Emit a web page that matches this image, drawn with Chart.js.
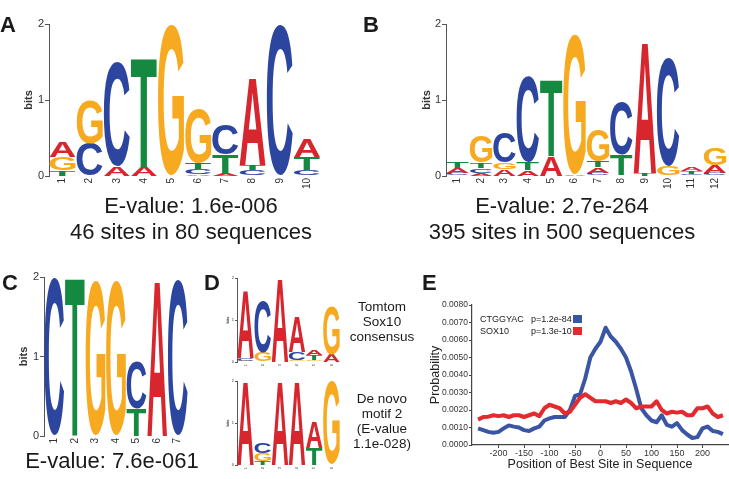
<!DOCTYPE html>
<html>
<head>
<meta charset="utf-8">
<script src="https://cdn.jsdelivr.net/npm/chart.js@4.4.1/dist/chart.umd.min.js"></script>
<style>
  html, body { margin: 0; padding: 0; background: #fff; }
  body {
    width: 729px; height: 479px; position: relative; overflow: hidden;
    font-family: "Liberation Sans", Arial, sans-serif; color: #1a1a1a;
  }
  canvas, .t { position: absolute; }
  .panel { font-weight: bold; font-size: 22px; line-height: 22px; }
  .caption { font-size: 22px; line-height: 26px; text-align: center; white-space: nowrap; }
  .note { font-size: 13.5px; line-height: 15px; text-align: center; width: 110px; }
  .leg { font-size: 9px; line-height: 12px; white-space: nowrap; }
  .sq { position: absolute; width: 9px; height: 8px; }
</style>
</head>
<body>
<canvas id="logoA" width="330" height="196" style="left:0;top:0"></canvas>
<canvas id="logoB" width="319" height="196" style="left:410px;top:0"></canvas>
<canvas id="logoC" width="195" height="192" style="left:0;top:262px"></canvas>
<canvas id="logoD1" width="125" height="104" style="left:220px;top:268px"></canvas>
<canvas id="logoD2" width="125" height="104" style="left:220px;top:371px"></canvas>
<canvas id="chartE" width="301" height="189" style="left:428px;top:290px"></canvas>

<div class="t panel" style="left:0;top:14px">A</div>
<div class="t panel" style="left:363px;top:14px">B</div>
<div class="t panel" style="left:2px;top:272px">C</div>
<div class="t panel" style="left:204px;top:272px">D</div>
<div class="t panel" style="left:422px;top:272px">E</div>

<div class="t caption" style="left:41px;top:193px;width:300px">E-value: 1.6e-006<br>46 sites in 80 sequences</div>
<div class="t caption" style="left:412px;top:193px;width:300px">E-value: 2.7e-264<br>395 sites in 500 sequences</div>
<div class="t caption" style="left:0;top:448px;width:224px">E-value: 7.6e-061</div>

<div class="t note" style="left:327px;top:299px">Tomtom<br>Sox10<br>consensus</div>
<div class="t note" style="left:327px;top:391px">De novo<br>motif 2<br>(E-value<br>1.1e-028)</div>

<div class="t leg" style="left:480px;top:313px">CTGGYAC</div>
<div class="t leg" style="left:531px;top:313px">p=1.2e-84</div>
<div class="sq" style="left:573px;top:315px;background:#3a55a4"></div>
<div class="t leg" style="left:480px;top:325px">SOX10</div>
<div class="t leg" style="left:531px;top:325px">p=1.3e-10</div>
<div class="sq" style="left:573px;top:327px;background:#e22a2f"></div>

<script>
// Sequence logos: letters of each column from bottom to top, with their heights in bits
const logoALetters = ['TGA', 'CG', 'AC', 'AT', 'G', 'ACTG', 'ATC', 'CTA', 'C', 'CTA'];
const logoAHeights = [
  [0.08, 0.17, 0.2], [0.43, 0.57], [0.12, 1.37], [0.12, 1.44], [1.99],
  [0.03, 0.06, 0.09, 0.71], [0.04, 0.24, 0.39], [0.08, 0.07, 1.15], [1.99], [0.08, 0.17, 0.24],
];

const logoBLetters = ['CAT', 'ACTG', 'AGC', 'ATC', 'AT', 'AG', 'CATG', 'ATC', 'TA', 'GC', 'CTA', 'CAG'];
const logoBHeights = [
  [0.035, 0.065, 0.09], [0.045, 0.055, 0.075, 0.35], [0.09, 0.09, 0.39], [0.08, 0.1, 1.13],
  [0.26, 1.0], [0.03, 1.84], [0.04, 0.075, 0.08, 0.42], [0.01, 0.27, 0.7],
  [0.04, 1.73], [0.12, 1.43], [0.03, 0.035, 0.05], [0.04, 0.1, 0.22],
];

const logoCLetters = ['C', 'T', 'G', 'G', 'TC', 'A', 'C'];
const logoCHeights = [[1.98], [2.0], [1.95], [1.95], [0.35, 0.59], [1.97], [1.96]];

const logoD1Letters = ['GCA', 'GC', 'A', 'GCA', 'CGTA', 'AG'];
const logoD1Heights = [[0.03, 0.07, 1.62], [0.22, 1.23], [2.0], [0.04, 0.2, 0.82], [0.02, 0.03, 0.12, 0.11], [0.18, 1.15]];

const logoD2Letters = ['A', 'TGC', 'A', 'A', 'TA', 'G'];
const logoD2Heights = [[2.0], [0.1, 0.18, 0.24], [2.0], [2.0], [0.4, 0.6], [2.0]];

// Panel E: probability of best site position
const ePositions = [
  -240, -230, -220, -210, -200, -190, -180, -170, -160, -150, -140, -130, -120, -110, -100, -90, -80,
  -70, -60, -50, -40, -30, -20, -10, 0, 10, 20, 30, 40, 50, 60, 70, 80, 90, 100, 110, 120, 130, 140,
  150, 160, 170, 180, 190, 200, 210, 220, 230, 240,
];
const ctggyacProb = [
  0.00095, 0.00085, 0.00075, 0.0007, 0.00075, 0.00095, 0.00112, 0.00105, 0.001, 0.00085, 0.0008,
  0.00095, 0.00105, 0.0014, 0.00152, 0.0016, 0.0016, 0.0016, 0.002, 0.0028, 0.0029, 0.0038, 0.005,
  0.0055, 0.0059, 0.0067, 0.0062, 0.0059, 0.0055, 0.005, 0.0042, 0.0032, 0.0021, 0.0017, 0.0014,
  0.0013, 0.0017, 0.00115, 0.00105, 0.00125, 0.00085, 0.0006, 0.0004, 0.00045, 0.00095, 0.00105,
  0.0008, 0.00075, 0.00062,
];
const sox10Prob = [
  0.00145, 0.0016, 0.00162, 0.0017, 0.00165, 0.0017, 0.0016, 0.0017, 0.0017, 0.0016, 0.0017, 0.0018,
  0.00165, 0.0021, 0.0023, 0.0022, 0.0021, 0.0018, 0.0019, 0.0023, 0.0027, 0.0029, 0.0027, 0.0025,
  0.0025, 0.0025, 0.0024, 0.0025, 0.0024, 0.0026, 0.0024, 0.0021, 0.0022, 0.0022, 0.0022, 0.0025,
  0.002, 0.0018, 0.0019, 0.00185, 0.0019, 0.0017, 0.0017, 0.0021, 0.0021, 0.0022, 0.0018, 0.0016,
  0.0017,
];
const eXTicks = [-200, -150, -100, -50, 0, 50, 100, 150, 200];

const FONT = '"Liberation Sans", Arial, sans-serif';
const letterColors = { A: '#d7262e', C: '#2c469f', G: '#f7a920', T: '#14893f' };

// Draw one nucleotide stretched to fill a bar rectangle
function drawLetter(ctx, letter, left, top, w, h) {
  ctx.save();
  ctx.font = 'bold 100px ' + FONT;
  ctx.textAlign = 'left';
  ctx.textBaseline = 'alphabetic';
  const m = ctx.measureText(letter);
  const gw = m.actualBoundingBoxLeft + m.actualBoundingBoxRight;
  const gh = m.actualBoundingBoxAscent + m.actualBoundingBoxDescent;
  ctx.translate(left, top);
  ctx.scale(w / gw, h / gh);
  ctx.fillStyle = letterColors[letter];
  ctx.fillText(letter, m.actualBoundingBoxLeft, m.actualBoundingBoxAscent);
  ctx.restore();
}

const letterPlugin = {
  id: 'logoLetters',
  afterDatasetsDraw(chart) {
    const ctx = chart.ctx;
    chart.data.datasets.forEach((ds, i) => {
      chart.getDatasetMeta(i).data.forEach((bar, j) => {
        const letter = ds.letters[j];
        if (!letter) return;
        const { x, y, base, width } = bar.getProps(['x', 'y', 'base', 'width'], true);
        const h = base - y;
        if (h < 0.4) return;
        drawLetter(ctx, letter, x - width / 2, y, width, h);
      });
    });
  },
};

function makeLogo(id, letters, heights, g) {
  const ranks = Math.max(...letters.map((s) => s.length));
  const datasets = [];
  for (let r = 0; r < ranks; r++) {
    datasets.push({
      data: letters.map((s, j) => (s.length > r ? heights[j][r] : 0)),
      letters: letters.map((s) => s[r] || null),
      backgroundColor: 'rgba(0,0,0,0)',
      borderWidth: 0,
      barPercentage: 0.96,
      categoryPercentage: 1,
    });
  }

  new Chart(document.getElementById(id), {
    type: 'bar',
    data: { labels: letters.map((_, i) => String(i + 1)), datasets },
    options: {
      responsive: false,
      animation: false,
      events: [],
      layout: { padding: { top: g.padTop, right: g.padRight, left: 0, bottom: 0 } },
      plugins: { legend: { display: false }, tooltip: { enabled: false } },
      scales: {
        x: {
          stacked: true,
          grid: { display: false, drawTicks: false },
          border: { display: false },
          ticks: {
            font: { size: g.xFont, family: FONT },
            color: '#333',
            minRotation: 90,
            maxRotation: 90,
            autoSkip: false,
            padding: 2,
          },
          afterFit: (s) => { s.height = g.xHeight; },
        },
        y: {
          stacked: true,
          min: 0,
          max: 2,
          ticks: { stepSize: 1, font: { size: g.yFont, family: FONT }, color: '#333', padding: 1 },
          grid: { drawOnChartArea: false, tickLength: g.tick, color: '#555' },
          border: { color: '#555', width: 1 },
          title: {
            display: true,
            text: 'bits',
            color: '#333',
            font: { size: g.titleFont, weight: 'bold', family: FONT },
            padding: { top: g.titlePad, bottom: 0 },
          },
          afterFit: (s) => { s.width = g.yWidth; },
        },
      },
    },
    plugins: [letterPlugin],
  });
}

makeLogo('logoA', logoALetters, logoAHeights,
  { padTop: 24, padRight: 9.5, yWidth: 49, xHeight: 20, xFont: 10, yFont: 11, titleFont: 11, titlePad: 22, tick: 4 });
makeLogo('logoB', logoBLetters, logoBHeights,
  { padTop: 24, padRight: 1, yWidth: 36, xHeight: 20, xFont: 10, yFont: 11, titleFont: 11, titlePad: 10.4, tick: 4 });
makeLogo('logoC', logoCLetters, logoCHeights,
  { padTop: 15, padRight: 7, yWidth: 44, xHeight: 18, xFont: 10, yFont: 11, titleFont: 11, titlePad: 17.4, tick: 4 });
makeLogo('logoD1', logoD1Letters, logoD1Heights,
  { padTop: 10, padRight: 5, yWidth: 17, xHeight: 10, xFont: 4, yFont: 4, titleFont: 4, titlePad: 5.6, tick: 2 });
makeLogo('logoD2', logoD2Letters, logoD2Heights,
  { padTop: 10, padRight: 5, yWidth: 17, xHeight: 10, xFont: 4, yFont: 4, titleFont: 4, titlePad: 5.6, tick: 2 });

// Panel E line chart
new Chart(document.getElementById('chartE'), {
  type: 'line',
  data: {
    datasets: [
      {
        label: 'SOX10',
        data: ePositions.map((x, i) => ({ x, y: sox10Prob[i] })),
        borderColor: '#e22a2f',
        borderWidth: 4,
        pointRadius: 0,
        tension: 0,
        borderJoinStyle: 'round',
      },
      {
        label: 'CTGGYAC',
        data: ePositions.map((x, i) => ({ x, y: ctggyacProb[i] })),
        borderColor: '#3a55a4',
        borderWidth: 4,
        pointRadius: 0,
        tension: 0,
        borderJoinStyle: 'round',
      },
    ],
  },
  options: {
    responsive: false,
    animation: false,
    events: [],
    layout: { padding: { top: 15, right: 1, left: 0, bottom: 0 } },
    plugins: { legend: { display: false }, tooltip: { enabled: false } },
    scales: {
      x: {
        type: 'linear',
        min: -252,
        max: 250,
        afterBuildTicks: (axis) => { axis.ticks = eXTicks.map((v) => ({ value: v })); },
        ticks: { font: { size: 9, family: FONT }, color: '#333', padding: 0, callback: (v) => String(v) },
        grid: { drawOnChartArea: false, tickLength: 3, color: '#444' },
        border: { color: '#444', width: 1.2 },
        title: {
          display: true,
          text: 'Position of Best Site in Sequence',
          color: '#222',
          font: { size: 12.5, family: FONT },
          padding: { top: 0, bottom: 6.5 },
        },
        afterFit: (s) => { s.height = 34; },
      },
      y: {
        min: 0,
        max: 0.008,
        ticks: {
          stepSize: 0.001,
          font: { size: 8.5, family: FONT },
          color: '#333',
          padding: 1,
          callback: (v) => Number(v).toFixed(4),
        },
        grid: { drawOnChartArea: false, tickLength: 3, color: '#444' },
        border: { color: '#444', width: 1.2 },
        title: {
          display: true,
          text: 'Probability',
          color: '#222',
          font: { size: 12.5, family: FONT, lineHeight: 1 },
          padding: { top: 1, bottom: 0 },
        },
        afterFit: (s) => { s.width = 44; },
      },
    },
  },
});
</script>
</body>
</html>
